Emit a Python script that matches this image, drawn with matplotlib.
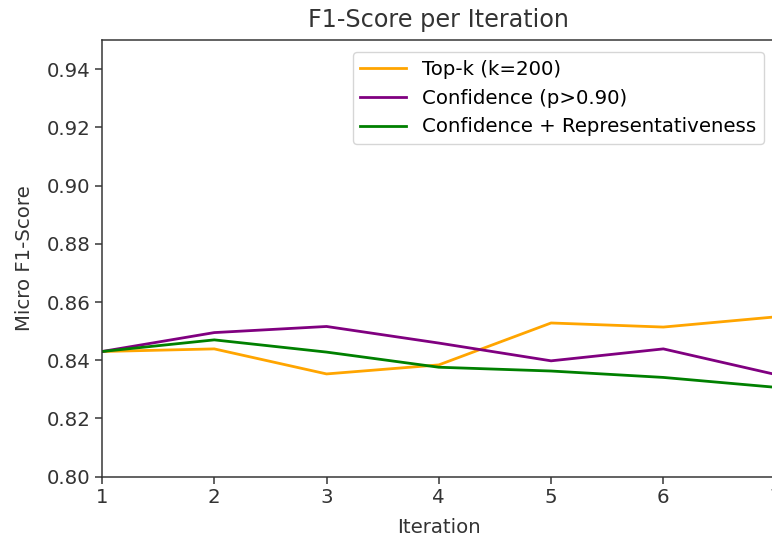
import matplotlib
matplotlib.use("Agg")
import matplotlib.pyplot as plt

iterations = [1, 2, 3, 4, 5, 6, 7]
topk = [0.843, 0.8439, 0.8353, 0.8384, 0.8528, 0.8514, 0.8549]
confidence = [0.843, 0.8495, 0.8516, 0.8459, 0.8398, 0.8439, 0.8351]
conf_repr = [0.843, 0.8470, 0.8428, 0.8376, 0.8363, 0.8341, 0.8307]
labels = ["Top-k (k=200)", "Confidence (p>0.90)", "Confidence + Representativeness"]
colors = ["orange", "purple", "green"]

plt.rcParams["font.family"] = "DejaVu Sans"
fs = 14.2
fig = plt.figure(figsize=(7.72, 5.4), dpi=100)
ax = fig.add_axes([102 / 772, 63.3 / 540, 673.6 / 772, 436.7 / 540])

for ys, lab, c in zip([topk, confidence, conf_repr], labels, colors):
    ax.plot(iterations, ys, color=c, label=lab, linewidth=2.0)

ax.set_xlim(1, 7)
ax.set_ylim(0.80, 0.95)
ax.set_yticks([0.80, 0.82, 0.84, 0.86, 0.88, 0.90, 0.92, 0.94])
ax.set_xticks(iterations)
ax.tick_params(labelsize=fs, length=4.7, width=1.08, colors="#333333", labelcolor="#333333")
for s in ax.spines.values():
    s.set_linewidth(1.08)
    s.set_color("#333333")
ax.set_title("F1-Score per Iteration", fontsize=17.2, color="#333333", pad=9)
ax.set_xlabel("Iteration", fontsize=fs, color="#333333", labelpad=8)
ax.set_ylabel("Micro F1-Score", fontsize=fs, color="#333333", labelpad=9)
leg = ax.legend(loc="upper right", fontsize=fs, borderaxespad=0.6, handlelength=2.3)

fig.savefig("out.png", dpi=100)
